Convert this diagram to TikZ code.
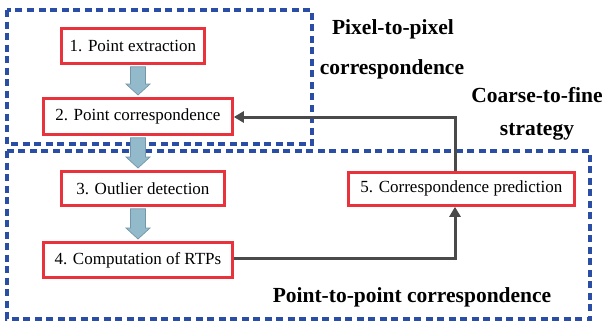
\documentclass[tikz,border=0pt]{standalone}
\usepackage{fontspec}
\setmainfont{Liberation Serif}
\usetikzlibrary{arrows.meta,calc}
\definecolor{frameblue}{HTML}{2A4DA5}
\definecolor{boxred}{HTML}{E8333C}
\definecolor{flowfill}{HTML}{92BACB}
\definecolor{flowedge}{HTML}{7396AA}
\definecolor{linkgray}{HTML}{4A4A4A}
\tikzset{
  x=1pt, y=-1pt,
  stepbox/.style={draw=boxred, line width=2.8pt, fill=white, inner sep=0pt,
    font=\fontsize{17}{19}\selectfont, anchor=north west},
  region/.style={draw=frameblue, line width=3.2pt, dash pattern=on 7pt off 4.5pt},
  caption/.style={font=\fontsize{21.5}{24}\bfseries\selectfont},
  flow/.style={draw=flowedge, line width=0.7pt, fill=flowfill, line join=miter},
  link/.style={draw=linkgray, line width=3pt, -{Triangle[length=10pt,width=11pt]}}
}
% block arrow from the bottom of one node to the top of the next, along x = 138
\newcommand\flowarrow[2]{%
  \coordinate (fa) at ($(138,0 |- #1.south)+(0,2)$);
  \coordinate (fb) at ($(138,0 |- #2.north)+(0,-2)$);
  \path[flow] ($(fa)+(-7.5,0)$) -- ($(fa)+(7.5,0)$) -- ($(fb)+(7.5,-11)$)
    -- ($(fb)+(12,-11)$) -- (fb) -- ($(fb)+(-12,-11)$) -- ($(fb)+(-7.5,-11)$) -- cycle;
}
\begin{document}
\begin{tikzpicture}
\useasboundingbox (0,0) rectangle (605,322);
% dashed regions
\draw[region] (7,10) rectangle (312,144);
\draw[region] (7,151) rectangle (590,319);

% step boxes
\node[stepbox, minimum width=143pt, minimum height=35pt] (s1) at (60,27) {1. Point extraction};
\node[stepbox, minimum width=189pt, minimum height=36pt] (s2) at (42,97) {2. Point correspondence};
\node[stepbox, minimum width=163pt, minimum height=34pt] (s3) at (60,170) {3. Outlier detection};
\node[stepbox, minimum width=189pt, minimum height=35pt] (s4) at (42,241) {4. Computation of RTPs};
\node[stepbox, minimum width=226pt, minimum height=33pt] (s5) at (347,171) {5. Correspondence prediction};

% thick flow arrows between the steps
\flowarrow{s1}{s2}
\flowarrow{s2}{s3}
\flowarrow{s3}{s4}

% feedback connectors
\coordinate (c45) at (455,258);
\coordinate (c52) at (455,117);
\draw[link] (s4.east |- c45) -- (c45) -- (c45 |- s5.south);
\draw[link] (c45 |- s5.north) -- (c52) -- (s2.east |- c52);

% captions
\node[caption] (t1) at (393,29) {Pixel-to-pixel};
\node[caption] (t2) at (392,69) {correspondence};
\node[caption] (t3) at (537,95) {Coarse-to-fine};
\node[caption] (t4) at (537,132) {strategy};
\node[caption] (t5) at (412,297) {Point-to-point correspondence};
\end{tikzpicture}
\end{document}
